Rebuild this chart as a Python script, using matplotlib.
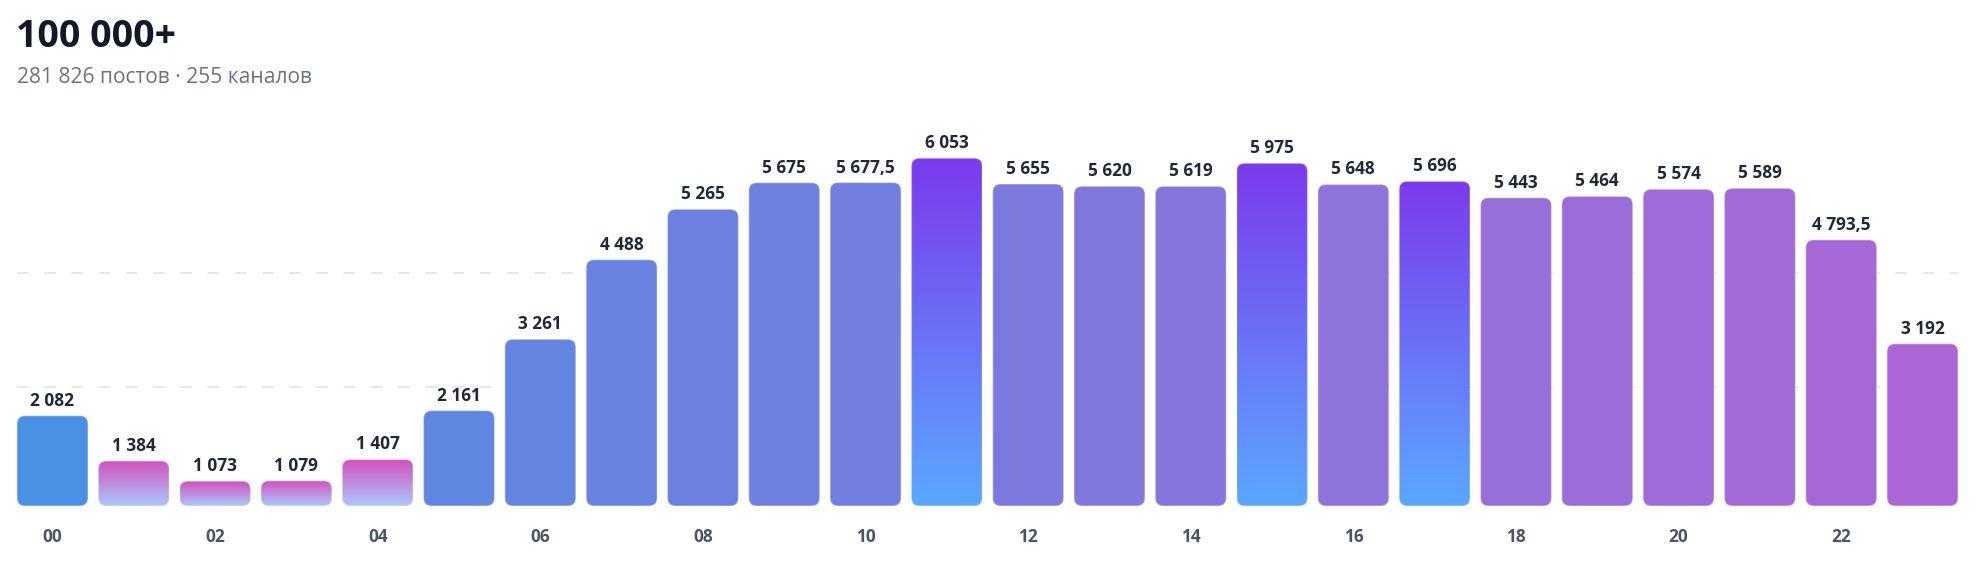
import numpy as np
import matplotlib
matplotlib.use("Agg")
import matplotlib.pyplot as plt
from matplotlib.patches import FancyBboxPatch
from matplotlib.colors import to_rgb

# ---- data ----
hours = [f"{h:02d}" for h in range(24)]
values = [2082, 1384, 1073, 1079, 1407, 2161, 3261, 4488, 5265, 5675, 5677.5, 6053,
          5655, 5620, 5619, 5975, 5648, 5696, 5443, 5464, 5574, 5589, 4793.5, 3192]
low_hours = [1, 2, 3, 4]
peak_hours = [11, 15, 17]
title = "100 000+"
subtitle = "281 826 постов · 255 каналов"
grid_values = [2525, 4282]

# ---- style ----
W, H, DPI = 1982, 562, 100
FONT = ["Open Sans", "DejaVu Sans"]
plt.rcParams["font.family"] = FONT
c_start, c_end = np.array(to_rgb("#4a90e4")), np.array(to_rgb("#ab66d6"))
low_grad = ("#d44fbe", "#a9c9fb")
peak_grad = ("#7c3aed", "#5aa8ff")

def fmt(v):
    if float(v).is_integer():
        s = f"{int(v):,}".replace(",", " ")
    else:
        ip = int(v)
        s = f"{ip:,}".replace(",", " ") + "," + f"{v:.1f}".split(".")[1]
    return s

fig = plt.figure(figsize=(W / DPI, H / DPI), dpi=DPI)
ax_left, ax_right, ax_bot, ax_top = 17, 1958, 506, 100
ax = fig.add_axes([ax_left / W, (H - ax_bot) / H, (ax_right - ax_left) / W, (ax_bot - ax_top) / H])

bw = 0.873
base = 690
ymax = 6950
x = np.arange(len(values))
ax.set_xlim(-bw / 2, len(values) - 1 + bw / 2)
ax.set_ylim(base, ymax)

# pixel scale for rounded corners
ax_w_px = ax_right - ax_left
ax_h_px = ax_bot - ax_top
xu_per_px = (len(values) - 1 + bw) / ax_w_px
yu_per_px = (ymax - base) / ax_h_px
radius_px = 8
aspect = yu_per_px / xu_per_px

bars = ax.bar(x, np.array(values) - base, bottom=base, width=bw)
for i, rect in enumerate(bars.patches):
    rect.set_visible(False)
    x0, y0, w, h = rect.get_x(), rect.get_y(), rect.get_width(), rect.get_height()
    t = i / (len(values) - 1)
    col = c_start * (1 - t) + c_end * t
    patch = FancyBboxPatch((x0, y0), w, h,
                           boxstyle=f"round,pad=0,rounding_size={radius_px * xu_per_px}",
                           mutation_aspect=aspect, linewidth=1.0,
                           edgecolor=(1, 1, 1, 0.35), facecolor=col, zorder=3)
    ax.add_patch(patch)
    if i in low_hours or i in peak_hours:
        top_c, bot_c = low_grad if i in low_hours else peak_grad
        tc, bc = np.array(to_rgb(top_c)), np.array(to_rgb(bot_c))
        n = 256
        f = np.linspace(0, 1, n)[:, None]
        grad = (tc * (1 - f) + bc * f)[:, None, :]
        patch.set_facecolor("none")
        im = ax.imshow(grad, extent=(x0, x0 + w, y0, y0 + h), aspect="auto",
                       origin="upper", zorder=2.9, interpolation="bilinear")
        im.set_clip_path(patch)
    ax.annotate(fmt(values[i]), (x[i], values[i]), xytext=(0, 7.2), textcoords="offset points",
                ha="center", va="baseline", fontsize=12.4, fontweight="bold", color="#1f2937",
                family=FONT, zorder=5)

ax.set_xlim(-bw / 2, len(values) - 1 + bw / 2)
ax.set_ylim(base, ymax)

for gv in grid_values:
    ax.axhline(gv, color="#e5e7eb", lw=1.4, ls=(0, (6, 8)), zorder=1)

ax.set_xticks(x[::2])
ax.set_xticklabels(hours[::2], fontsize=12.4, fontweight="bold", color="#4b5563")
ax.tick_params(axis="x", length=0, pad=15.5)
ax.set_yticks([])
for s in ax.spines.values():
    s.set_visible(False)

fig.text(16 / W, 1 - 47 / H, title, fontsize=27, fontweight="bold", color="#111827", va="baseline")
fig.text(17 / W, 1 - 83 / H, subtitle, fontsize=15.1, color="#6b7280", va="baseline")

fig.savefig("out.png", dpi=DPI)
